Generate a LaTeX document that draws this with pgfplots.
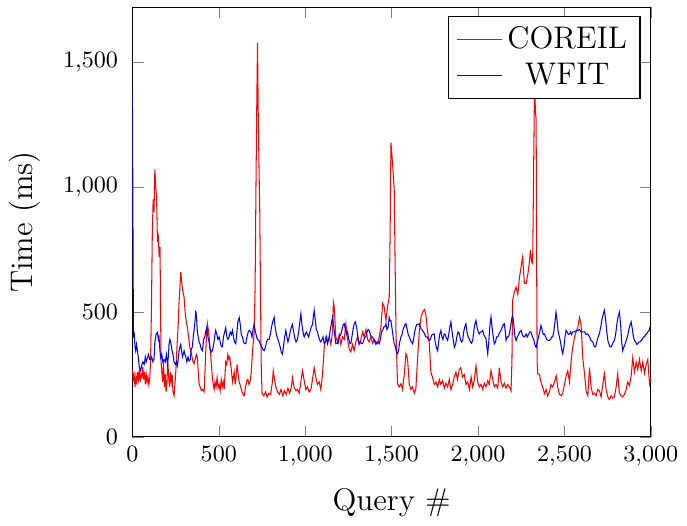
\documentclass[border=0pt]{standalone}
\usepackage{pgfplots}
\pgfplotsset{compat=1.18}

\pgfplotstableread{
x y
0 270
5 230
10 250
15 200
20 240
25 210
30 260
35 230
40 270
45 220
50 250
55 240
60 280
65 230
70 260
75 210
80 250
85 220
90 240
95 210
100 230
105 300
110 500
115 800
120 950
125 900
130 1070
135 1000
140 960
145 780
150 800
155 720
160 760
163 500
166 300
170 260
175 220
180 300
185 200
190 250
195 180
200 220
205 300
210 240
215 200
220 260
225 220
230 250
235 180
241 165
245 200
251 260
258 360
265 450
270 540
275 600
280 660
285 620
290 590
299 560
305 500
312 460
318 440
325 400
332 360
338 345
345 320
351 300
357 293
363 310
370 330
376 317
381 260
386 212
392 200
399 185
407 190
415 181
420 260
425 350
430 420
434 453
439 430
444 400
448 360
453 330
458 280
463 237
468 210
473 190
478 220
484 200
490 237
496 195
502 210
508 185
514 230
520 200
526 220
531 190
536 250
540 300
546 290
552 330
558 310
563 320
569 290
575 250
580 220
589 260
595 210
600 240
606 290
612 250
618 220
627 200
634 180
640 170
647 165
655 200
662 225
668 230
675 210
682 225
688 260
695 345
700 380
705 420
710 600
715 1000
720 1350
724 1577
728 1300
733 1060
737 900
741 600
745 300
750 175
760 165
770 180
780 160
790 175
800 170
810 220
815 265
820 240
830 200
840 180
850 170
860 190
870 165
880 185
890 170
900 195
910 175
920 200
926 237
935 200
946 185
955 190
965 175
975 220
984 265
993 230
1003 190
1013 200
1023 180
1033 190
1042 230
1052 277
1061 240
1071 210
1081 220
1090 190
1100 250
1110 357
1119 398
1129 380
1139 400
1148 370
1158 420
1163 538
1168 520
1177 400
1187 380
1197 410
1206 370
1216 400
1226 390
1235 453
1245 390
1255 350
1264 340
1274 370
1283 345
1293 380
1303 400
1312 370
1322 390
1332 420
1341 400
1351 430
1361 390
1370 380
1380 400
1390 375
1400 390
1409 380
1419 373
1428 400
1438 440
1448 534
1457 520
1467 466
1476 520
1486 558
1491 800
1496 1177
1505 1100
1515 988
1520 700
1525 426
1534 213
1544 200
1554 213
1563 190
1573 250
1583 333
1592 313
1602 210
1612 190
1621 200
1631 175
1640 190
1650 313
1660 420
1670 480
1680 500
1690 510
1698 490
1708 420
1718 373
1727 260
1737 237
1747 210
1757 220
1766 200
1776 230
1785 210
1795 225
1805 195
1814 215
1824 200
1834 230
1843 190
1853 210
1862 240
1872 260
1881 230
1891 270
1900 277
1910 240
1920 250
1930 210
1940 220
1950 190
1960 240
1969 200
1979 230
1988 285
1998 220
2007 200
2017 210
2027 190
2036 215
2046 200
2056 225
2065 210
2075 265
2085 230
2094 200
2104 210
2114 195
2123 277
2133 220
2143 200
2152 215
2162 195
2172 210
2181 200
2191 185
2196 300
2200 546
2210 580
2220 600
2230 570
2240 640
2249 680
2258 720
2268 615
2278 613
2288 650
2297 700
2303 747
2310 700
2316 694
2322 1100
2327 1420
2332 1300
2336 1270
2339 700
2342 300
2345 253
2355 250
2364 220
2374 200
2384 173
2394 190
2403 165
2413 180
2422 210
2432 200
2442 220
2452 245
2461 200
2471 170
2481 165
2490 175
2500 210
2510 245
2519 265
2529 220
2538 300
2548 360
2558 398
2567 420
2577 438
2587 478
2596 450
2606 317
2616 253
2625 185
2635 165
2645 277
2654 200
2664 170
2674 175
2683 165
2693 190
2702 185
2712 160
2722 210
2731 253
2741 190
2751 160
2760 150
2770 165
2779 155
2789 160
2799 200
2808 253
2818 175
2828 165
2837 160
2847 170
2857 190
2866 220
2876 205
2886 245
2895 317
2905 260
2915 300
2924 270
2934 310
2944 265
2953 300
2963 255
2973 290
2982 310
2992 213
3000 240
}\coreil

\pgfplotstableread{
x y
0 1400
3 900
6 398
10 420
15 360
19 345
24 370
29 345
34 320
40 280
48 265
55 290
61 300
68 290
75 320
80 300
87 317
93 330
100 310
106 310
112 320
118 300
125 310
130 380
137 410
145 418
150 390
154 400
160 340
164 317
170 330
176 300
183 310
190 300
197 330
203 290
208 320
212 370
217 390
222 378
228 350
235 330
241 300
250 290
255 300
260 284
265 310
270 345
275 360
280 370
285 340
290 320
299 345
304 330
309 320
315 300
322 320
328 304
335 310
340 350
347 360
352 400
357 426
362 460
367 506
372 470
376 420
381 400
386 380
392 370
399 350
405 345
412 390
419 400
424 420
430 437
437 400
444 380
450 350
457 340
463 345
470 370
476 400
482 426
489 410
495 390
502 400
508 380
515 360
521 360
527 400
534 420
540 437
547 400
553 390
560 400
566 420
573 410
579 426
585 400
591 380
598 373
605 420
610 460
618 478
624 450
630 410
637 400
643 380
650 373
656 373
663 400
670 420
676 426
685 420
692 400
698 430
704 450
712 420
719 400
724 390
733 386
740 370
748 360
755 350
762 345
770 360
776 380
782 390
791 390
798 410
805 440
812 460
820 478
826 440
833 410
840 395
847 380
855 360
861 340
868 331
874 360
881 400
888 426
894 400
900 380
907 400
913 420
920 440
926 450
933 420
940 395
947 380
955 390
962 420
969 460
975 493
981 450
987 420
994 400
1000 410
1007 420
1013 410
1020 400
1027 420
1035 440
1042 450
1047 480
1052 506
1058 470
1064 430
1071 420
1078 400
1085 385
1090 380
1097 390
1103 400
1110 373
1117 380
1124 400
1129 373
1136 390
1143 420
1150 450
1158 478
1165 440
1172 400
1177 373
1185 375
1190 373
1197 400
1206 410
1213 430
1220 450
1226 453
1232 430
1238 410
1245 420
1252 390
1258 375
1264 373
1270 400
1277 430
1283 453
1290 460
1297 440
1305 400
1312 373
1320 380
1326 373
1332 373
1340 390
1346 400
1351 400
1358 420
1364 430
1370 426
1377 410
1383 400
1390 400
1397 390
1403 380
1409 370
1416 380
1422 380
1428 373
1435 390
1441 420
1448 426
1455 440
1460 440
1467 453
1473 430
1480 440
1486 478
1491 465
1496 466
1503 430
1509 400
1515 373
1522 360
1528 340
1534 333
1541 350
1547 380
1554 400
1560 410
1566 430
1572 440
1578 450
1583 453
1590 430
1596 410
1602 400
1608 390
1614 380
1621 373
1627 390
1633 420
1640 440
1646 450
1653 450
1660 453
1666 440
1672 430
1679 426
1685 420
1692 410
1698 400
1705 400
1712 390
1718 386
1724 390
1727 398
1734 410
1740 410
1746 412
1752 380
1758 360
1766 345
1772 380
1778 410
1785 426
1791 400
1797 390
1804 412
1810 410
1817 395
1824 386
1830 410
1837 440
1843 460
1850 420
1856 390
1863 358
1870 370
1877 400
1884 420
1892 412
1898 390
1905 380
1911 386
1917 420
1923 440
1930 453
1936 420
1943 400
1949 393
1956 380
1962 375
1969 386
1975 420
1981 450
1988 466
1994 440
2001 420
2007 412
2014 420
2020 420
2027 426
2033 410
2040 400
2046 393
2051 360
2056 333
2062 380
2068 440
2075 480
2081 440
2088 400
2094 372
2101 380
2107 400
2114 400
2120 410
2127 420
2133 426
2140 440
2146 450
2152 453
2158 420
2162 386
2170 400
2176 400
2181 412
2188 440
2194 470
2200 486
2207 450
2214 400
2220 386
2227 400
2234 410
2241 420
2249 426
2256 410
2263 400
2270 400
2278 412
2285 400
2292 410
2299 420
2306 420
2315 400
2322 390
2329 370
2336 358
2343 380
2350 400
2357 420
2364 446
2370 430
2377 410
2384 412
2391 400
2398 390
2405 386
2413 386
2420 390
2426 400
2432 400
2438 420
2445 460
2451 499
2458 460
2464 420
2471 400
2477 380
2484 350
2490 333
2497 360
2503 400
2509 426
2516 420
2522 410
2529 412
2535 420
2541 410
2548 420
2558 420
2567 426
2577 426
2586 430
2596 420
2606 420
2616 420
2625 410
2635 412
2645 400
2654 386
2664 380
2673 360
2680 360
2687 380
2695 400
2702 412
2710 440
2717 470
2724 490
2731 507
2738 470
2745 420
2751 386
2758 370
2764 360
2770 360
2777 370
2783 380
2789 386
2796 410
2803 450
2810 480
2818 499
2825 450
2831 380
2837 345
2844 360
2850 370
2857 386
2864 400
2870 420
2876 440
2881 450
2886 460
2893 430
2899 400
2905 386
2912 380
2918 370
2924 373
2931 380
2937 380
2944 386
2950 390
2957 400
2963 400
2970 410
2976 412
2982 420
2990 426
2995 440
3000 438
}\wfit

\begin{document}
\begin{tikzpicture}
\begin{axis}[
    scale only axis,
    width=199pt,
    height=165pt,
    xmin=0, xmax=3000,
    ymin=0, ymax=1720,
    xtick={0,500,...,3000},
    ytick={0,500,1000,1500},
    tick label style={font=\small},
    yticklabel style={xshift=-2pt},
    label style={font=\large},
    xlabel={Query \#},
    ylabel={Time (ms)},
    xlabel style={yshift=-2pt},
    ylabel style={yshift=2pt},
    legend style={font=\large, at={(0.98,0.98)}, anchor=north east},
    legend cell align=center,
]
\addplot[red, no markers] table[x=x, y=y] {\coreil};
\addlegendentry{COREIL}
\addplot[blue, no markers] table[x=x, y=y] {\wfit};
\addlegendentry{WFIT}
\end{axis}
\path ([yshift=2.7pt]current axis.north);
\end{tikzpicture}
\end{document}
